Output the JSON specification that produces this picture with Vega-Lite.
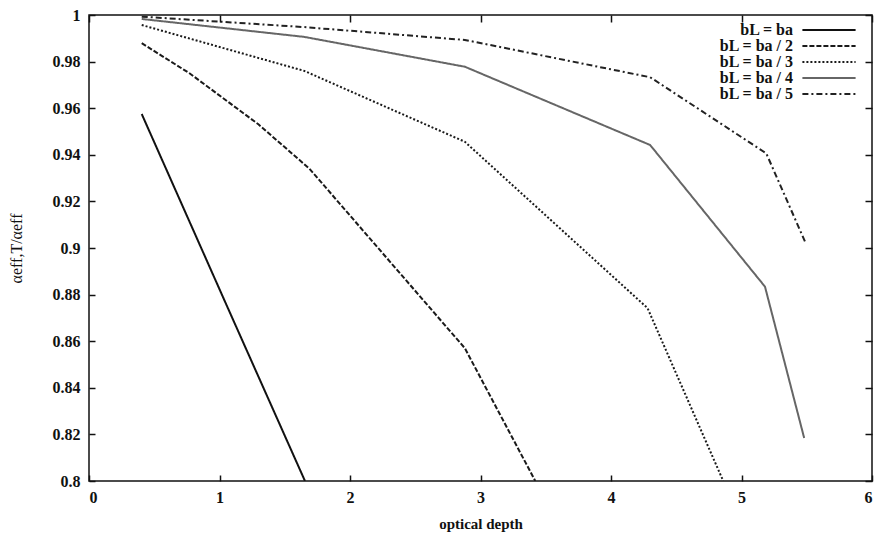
{
  "$schema": "https://vega.github.io/schema/vega-lite/v6.json",
  "autosize": "none",
  "width": 783,
  "height": 466,
  "padding": {"left": 89, "top": 15, "right": 2, "bottom": 58},
  "background": "white",
  "config": {
    "font": "Liberation Serif",
    "view": {"stroke": "#111", "strokeWidth": 1.5},
    "axis": {
      "labelFont": "Liberation Serif", "labelFontWeight": "bold", "labelFontSize": 16, "labelColor": "#111",
      "grid": false, "domain": false, "tickColor": "#111", "tickSize": -6, "tickWidth": 1.5,
      "titleFont": "Liberation Serif", "titleFontWeight": "bold", "titleFontSize": 15, "titleColor": "#111"
    },
    "legend": {
      "orient": "none", "legendX": 732, "legendY": 7, "padding": 0, "title": null, "symbolType": "M-3.8,0H3.8", "symbolSize": 196,
      "symbolStrokeWidth": 2, "symbolFillColor": "transparent", "labelFont": "Liberation Serif", "labelFontWeight": "bold",
      "labelFontSize": 16, "labelColor": "#111", "rowPadding": 0,
      "labelAlign": "right", "labelOffset": -44, "labelBaseline": "middle"
    }
  },
  "data": {"values": [
    {"series": "bL = ba", "x": 0.404, "y": 0.9575},
    {"series": "bL = ba", "x": 1.05, "y": 0.876},
    {"series": "bL = ba", "x": 1.655, "y": 0.8},
    {"series": "bL = ba / 2", "x": 0.404, "y": 0.9879},
    {"series": "bL = ba / 2", "x": 0.77, "y": 0.975},
    {"series": "bL = ba / 2", "x": 1.3, "y": 0.953},
    {"series": "bL = ba / 2", "x": 1.69, "y": 0.934},
    {"series": "bL = ba / 2", "x": 2.88, "y": 0.857},
    {"series": "bL = ba / 2", "x": 3.42, "y": 0.8},
    {"series": "bL = ba / 3", "x": 0.404, "y": 0.9957},
    {"series": "bL = ba / 3", "x": 1.65, "y": 0.976},
    {"series": "bL = ba / 3", "x": 2.88, "y": 0.9456},
    {"series": "bL = ba / 3", "x": 4.28, "y": 0.8742},
    {"series": "bL = ba / 3", "x": 4.86, "y": 0.8},
    {"series": "bL = ba / 4", "x": 0.404, "y": 0.9983},
    {"series": "bL = ba / 4", "x": 1.65, "y": 0.9906},
    {"series": "bL = ba / 4", "x": 2.88, "y": 0.9778},
    {"series": "bL = ba / 4", "x": 4.3, "y": 0.9442},
    {"series": "bL = ba / 4", "x": 5.18, "y": 0.8834},
    {"series": "bL = ba / 4", "x": 5.48, "y": 0.8185},
    {"series": "bL = ba / 5", "x": 0.404, "y": 0.9993},
    {"series": "bL = ba / 5", "x": 1.65, "y": 0.9948},
    {"series": "bL = ba / 5", "x": 2.88, "y": 0.9893},
    {"series": "bL = ba / 5", "x": 4.3, "y": 0.9733},
    {"series": "bL = ba / 5", "x": 5.19, "y": 0.9406},
    {"series": "bL = ba / 5", "x": 5.49, "y": 0.9023}
  ]},
  "resolve": {"scale": {"x": "independent", "y": "independent"}, "axis": {"x": "independent", "y": "independent"}},
  "layer": [
    {
      "mark": {"type": "line", "clip": true, "strokeWidth": 2},
      "encoding": {
        "x": {"field": "x", "type": "quantitative", "scale": {"domain": [0, 6], "nice": false, "zero": false},
              "axis": {"orient": "bottom", "values": [0, 1, 2, 3, 4, 5, 6], "format": "d", "title": "optical depth", "labelPadding": 14, "titlePadding": 11}},
        "y": {"field": "y", "type": "quantitative", "scale": {"domain": [0.8, 1], "nice": false, "zero": false},
              "axis": {"orient": "left", "values": [0.8, 0.82, 0.84, 0.86, 0.88, 0.9, 0.92, 0.94, 0.96, 0.98, 1], "format": "~g",
                       "title": "αeff,T/αeff", "titleFontWeight": "normal", "titleFontSize": 16, "labelPadding": 15, "titlePadding": 28}},
        "color": {"field": "series", "type": "nominal",
                  "scale": {"domain": ["bL = ba", "bL = ba / 2", "bL = ba / 3", "bL = ba / 4", "bL = ba / 5"],
                            "range": ["#111111", "#1a1a1a", "#1a1a1a", "#666666", "#222222"]}},
        "strokeDash": {"field": "series", "type": "nominal",
                       "scale": {"domain": ["bL = ba", "bL = ba / 2", "bL = ba / 3", "bL = ba / 4", "bL = ba / 5"],
                                 "range": [[1, 0], [5, 2], [2, 2], [1, 0], [6, 3, 2, 3]]}}
      }
    },
    {
      "mark": {"type": "point", "opacity": 0},
      "encoding": {
        "x": {"field": "x", "type": "quantitative", "scale": {"domain": [0, 6], "nice": false, "zero": false},
              "axis": {"orient": "top", "values": [0, 1, 2, 3, 4, 5, 6], "labels": false, "title": null, "ticks": true, "tickSize": 7, "tickOffset": 0, "offset": -7, "tickColor": "#111", "zindex": 2}},
        "y": {"field": "y", "type": "quantitative", "scale": {"domain": [0.8, 1], "nice": false, "zero": false},
              "axis": {"orient": "right", "values": [0.8, 0.82, 0.84, 0.86, 0.88, 0.9, 0.92, 0.94, 0.96, 0.98, 1], "labels": false, "title": null, "ticks": true, "tickSize": 7, "offset": -7, "tickColor": "#111", "zindex": 2}}
      }
    }
  ]
}
